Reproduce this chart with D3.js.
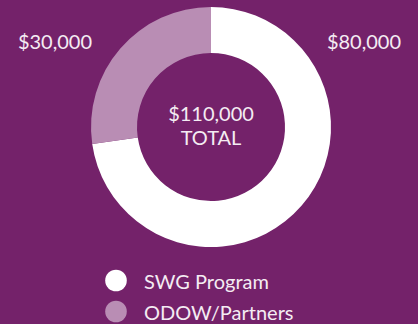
<!DOCTYPE html>
<html>
<head>
<meta charset="utf-8">
<script src="https://cdn.jsdelivr.net/npm/d3@7"></script>
<style>
  html, body { margin: 0; padding: 0; background: #74226a; }
  svg { display: block; }
  text { font-family: "Lato", "Open Sans", sans-serif; fill: #f4ecf3; }
</style>
</head>
<body>
<svg id="chart" width="418" height="324"></svg>
<script>
// Funding sources
const categories = ["SWG Program", "ODOW/Partners"];
const amounts = [80000, 30000];
const sliceColors = ["#ffffff", "#b98db4"];
const valueLabels = ["$80,000", "$30,000"];
const totalLabel = "$110,000";
const totalCaption = "TOTAL";

const svg = d3.select("#chart");
const cx = 211, cy = 127;
const outerR = 120, innerR = 74;

const color = d3.scaleOrdinal().domain(categories).range(sliceColors);

const pie = d3.pie().sort(null).value(d => d.value);
const arc = d3.arc().innerRadius(innerR).outerRadius(outerR);

const data = categories.map((c, i) => ({ name: c, value: amounts[i], label: valueLabels[i] }));
const arcs = pie(data);

const g = svg.append("g").attr("transform", `translate(${cx},${cy})`);
g.selectAll("path.slice")
  .data(arcs)
  .join("path")
  .attr("class", "slice")
  .attr("d", arc)
  .attr("fill", d => color(d.data.name));

// Value labels sit in the upper corners, on the side of their slice
const labelPos = [{ x: 364, y: 49 }, { x: 55, y: 49 }];
svg.selectAll("text.value")
  .data(data)
  .join("text")
  .attr("class", "value")
  .attr("x", (d, i) => labelPos[i].x)
  .attr("y", (d, i) => labelPos[i].y)
  .attr("text-anchor", "middle")
  .attr("font-size", 20)
  .text(d => d.label);

// Total in the hole
g.append("text")
  .attr("x", 0).attr("y", -6)
  .attr("text-anchor", "middle")
  .attr("font-size", 20)
  .text(totalLabel);
g.append("text")
  .attr("x", 0).attr("y", 18)
  .attr("text-anchor", "middle")
  .attr("font-size", 20)
  .text(totalCaption);

// Legend
const legend = svg.append("g").attr("transform", "translate(116,280.5)");
const rows = legend.selectAll("g.row")
  .data(categories)
  .join("g")
  .attr("class", "row")
  .attr("transform", (d, i) => `translate(0,${i * 31})`);
rows.append("circle")
  .attr("r", 10.8)
  .attr("fill", d => color(d));
rows.append("text")
  .attr("x", 28)
  .attr("y", 8.5)
  .attr("font-size", 20)
  .text(d => d);
</script>
</body>
</html>
